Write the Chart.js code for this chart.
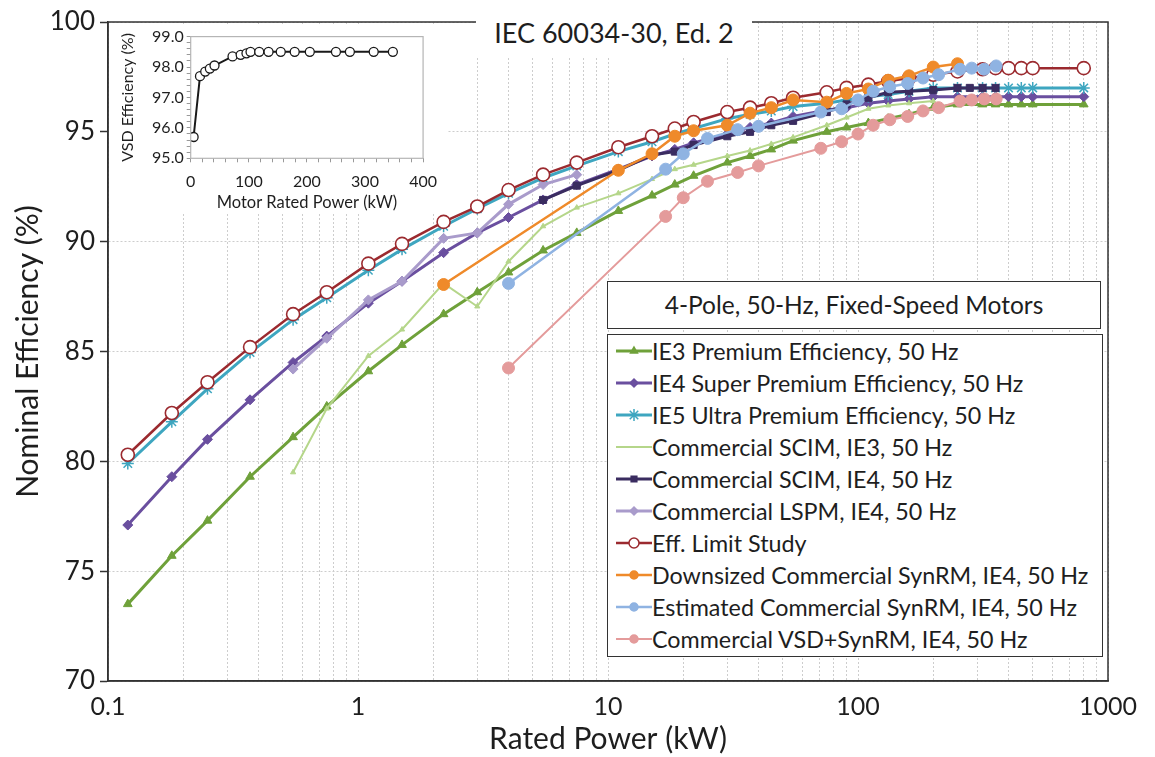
<!DOCTYPE html>
<html>
<head>
<meta charset="utf-8">
<script src="https://cdn.jsdelivr.net/npm/chart.js"></script>
<style>
  html, body { margin: 0; padding: 0; background: #fff; }
  #wrap { position: relative; width: 1155px; height: 757px; font-family: Lato, "Open Sans", sans-serif; color: #1e1e1e; }
  #mainChart { position: absolute; left: 0; top: 0; }
  #insetBox { position: absolute; left: 109px; top: 24px; width: 338px; height: 189px; background: #fff; }
  #titleBox { position: absolute; left: 476px; top: 10px; width: 276px; height: 46px; background: #fff;
              font-size: 27px; text-align: center; line-height: 46px; }
  #legendTitle { position: absolute; left: 607px; top: 281px; width: 492px; height: 46px; background: #fff;
                 border: 1.5px solid #333; font-size: 24.5px; text-align: center; line-height: 46px; }
  #legend { position: absolute; left: 607px; top: 334px; width: 494px; height: 321px; background: #fff;
            border: 1.5px solid #333; }
  .row { position: absolute; left: 0; height: 32px; line-height: 32px; font-size: 23.3px; white-space: nowrap; }
  .row canvas { position: absolute; left: 8px; top: 0; }
  .row span { position: absolute; left: 44px; top: 0; }
</style>
</head>
<body>
<div id="wrap">
  <canvas id="mainChart" width="1155" height="757"></canvas>
  <div id="titleBox">IEC 60034-30, Ed. 2</div>
  <div id="insetBox"><canvas id="insetChart" width="338" height="189"></canvas></div>
  <div id="legendTitle">4-Pole, 50-Hz, Fixed-Speed Motors</div>
  <div id="legend"></div>
</div>
<script>
// rated power (kW) of the standard efficiency classes
const stdPower = [0.12, 0.18, 0.25, 0.37, 0.55, 0.75, 1.1, 1.5, 2.2, 3, 4, 5.5, 7.5, 11, 15, 18.5, 22, 30, 37, 45, 55,
                  75, 90, 110, 132, 160, 200, 250, 315, 355, 400, 450, 500, 800];
const ie3Eff = [73.5, 75.7, 77.3, 79.3, 81.1, 82.5, 84.1, 85.3, 86.7, 87.7, 88.6, 89.6, 90.4, 91.4, 92.1, 92.6, 93.0,
                93.6, 93.9, 94.2, 94.6, 95.0, 95.2, 95.4, 95.6, 95.8, 96.1, 96.25, 96.25, 96.25, 96.25, 96.25, 96.25, 96.25];
const ie4Eff = [77.1, 79.3, 81.0, 82.8, 84.5, 85.7, 87.2, 88.2, 89.5, 90.4, 91.1, 91.9, 92.6, 93.3, 93.9, 94.2, 94.5,
                94.9, 95.2, 95.4, 95.7, 96.0, 96.1, 96.3, 96.4, 96.5, 96.6, 96.6, 96.6, 96.6, 96.6, 96.6, 96.6, 96.6];
const ie5Eff = [79.9, 81.8, 83.3, 84.95, 86.45, 87.45, 88.7, 89.65, 90.7, 91.5, 92.2, 92.9, 93.45, 94.1, 94.55, 94.9,
                95.15, 95.6, 95.8, 95.95, 96.15, 96.3, 96.45, 96.6, 96.7, 96.85, 97.0, 97.0, 97.0, 97.0, 97.0, 97.0, 97.0, 97.0];
const limitEff = [80.3, 82.2, 83.6, 85.2, 86.7, 87.7, 89.0, 89.9, 90.9, 91.6, 92.35, 93.05, 93.6, 94.3, 94.8, 95.15,
                  95.45, 95.9, 96.1, 96.3, 96.55, 96.8, 97.0, 97.15, 97.3, 97.45, 97.6, 97.75, 97.85, 97.9, 97.9, 97.9, 97.9, 97.9];

// commercial motors
const scimIe3Power = [0.55, 0.75, 1.1, 1.5, 2.2, 3, 4, 5.5, 7.5, 11, 15, 18.5, 22, 30, 37, 45, 55, 75, 90, 110, 132, 160, 200];
const scimIe3Eff = [79.5, 82.4, 84.8, 86.0, 88.1, 87.05, 89.1, 90.7, 91.55, 92.2, 92.85, 93.3, 93.5, 93.9, 94.15, 94.45,
                    94.75, 95.3, 95.65, 96.05, 96.2, 96.3, 96.4];
const scimIe4Power = [5.5, 7.5, 11, 15, 18.5, 22, 30, 37, 45, 55, 75, 90, 110, 132, 160, 200, 250, 280, 315, 355];
const scimIe4Eff = [91.9, 92.55, 93.25, 93.95, 94.1, 94.4, 94.8, 95.0, 95.3, 95.5, 95.9, 96.25, 96.55, 96.8, 96.85,
                    96.9, 97.0, 97.0, 97.0, 97.0];
const lspmPower = [0.55, 0.75, 1.1, 1.5, 2.2, 3, 4, 5.5, 7.5];
const lspmEff = [84.2, 85.6, 87.35, 88.2, 90.15, 90.4, 91.7, 92.6, 93.05];
const downsizedPower = [2.2, 11, 15, 18.5, 22, 30, 37, 45, 55, 75, 90, 110, 132, 160, 200, 250];
const downsizedEff = [88.05, 93.25, 94.0, 94.8, 95.05, 95.3, 95.85, 96.1, 96.45, 96.35, 96.75, 96.95, 97.35, 97.55, 97.95, 98.1];
const synrmPower = [4, 17, 20, 25, 33, 40, 71, 86, 100, 115, 134, 158, 182, 210, 256, 285, 320, 357];
const estimatedEff = [88.1, 93.3, 94.0, 94.7, 95.1, 95.25, 95.9, 96.05, 96.45, 96.85, 97.05, 97.2, 97.45, 97.6,
                      97.85, 97.9, 97.85, 98.0];
const vsdSynrmEff = [84.25, 91.15, 92.0, 92.75, 93.15, 93.45, 94.25, 94.55, 94.9, 95.3, 95.55, 95.7, 95.95, 96.1,
                     96.4, 96.45, 96.5, 96.5];

// inset: drive efficiency
const insetPower = [5, 16, 25, 33, 41, 72, 86, 96, 103, 118, 134, 155, 179, 205, 250, 274, 315, 348];
const insetEff = [95.7, 97.7, 97.85, 97.95, 98.05, 98.35, 98.4, 98.45, 98.5, 98.5, 98.5, 98.5, 98.5, 98.5, 98.5, 98.5, 98.5, 98.5];

const yTicks = [70, 75, 80, 85, 90, 95, 100];
const decades = [0.1, 1, 10, 100, 1000];

const series = [
  { label: "IE3 Premium Efficiency, 50 Hz", x: stdPower, y: ie3Eff, color: "#6fa13a", fill: "#6fa13a", style: "triangle", r: 5, w: 3 },
  { label: "IE4 Super Premium Efficiency, 50 Hz", x: stdPower, y: ie4Eff, color: "#6a4f9f", fill: "#6a4f9f", style: "rectRot", r: 5, w: 3 },
  { label: "IE5 Ultra Premium Efficiency, 50 Hz", x: stdPower, y: ie5Eff, color: "#3ea6c0", fill: "#3ea6c0", style: "star", r: 6, w: 3 },
  { label: "Commercial SCIM, IE3, 50 Hz", x: scimIe3Power, y: scimIe3Eff, color: "#b5d68a", fill: "#b5d68a", style: "triangle", r: 3, w: 2 },
  { label: "Commercial SCIM, IE4, 50 Hz", x: scimIe4Power, y: scimIe4Eff, color: "#3a2c60", fill: "#3a2c60", style: "rect", r: 5, w: 3 },
  { label: "Commercial LSPM, IE4, 50 Hz", x: lspmPower, y: lspmEff, color: "#a99bcb", fill: "#a99bcb", style: "rectRot", r: 5, w: 3 },
  { label: "Eff. Limit Study", x: stdPower, y: limitEff, color: "#9b2a2f", fill: "#ffffff", style: "circle", r: 6.5, w: 2.5 },
  { label: "Downsized Commercial SynRM, IE4, 50 Hz", x: downsizedPower, y: downsizedEff, color: "#ef8a2a", fill: "#ef8a2a", style: "circle", r: 6, w: 2.5 },
  { label: "Estimated Commercial SynRM, IE4, 50 Hz", x: synrmPower, y: estimatedEff, color: "#8fb3e2", fill: "#8fb3e2", style: "circle", r: 6, w: 2.5 },
  { label: "Commercial VSD+SynRM, IE4, 50 Hz", x: synrmPower, y: vsdSynrmEff, color: "#e49b9b", fill: "#e49b9b", style: "circle", r: 6, w: 2 }
];

const FONT = "Lato, 'Open Sans', sans-serif";
const TEXT = "#1e1e1e";

const framePlugin = {
  id: "frame",
  afterDatasetsDraw(chart, args, opts) {
    const a = chart.chartArea, ctx = chart.ctx;
    ctx.save();
    ctx.strokeStyle = opts.color || "#333";
    ctx.lineWidth = opts.width || 1.5;
    ctx.strokeRect(a.left, a.top, a.right - a.left, a.bottom - a.top);
    ctx.restore();
  }
};

// minor grid for the log axis: 1..9 of every decade
const xGridValues = [];
for (let d = 0; d < decades.length - 1; d++) {
  for (let m = 1; m < 10; m++) xGridValues.push(+(m * decades[d]).toPrecision(6));
}
xGridValues.push(decades[decades.length - 1]);

const isDecade = v => decades.some(d => Math.abs(d - v) < 1e-9);

new Chart(document.getElementById("mainChart"), {
  type: "line",
  data: {
    datasets: series.map((s, i) => ({
      label: s.label,
      data: s.x.map((p, k) => ({ x: p, y: s.y[k] })),
      borderColor: s.color,
      backgroundColor: s.fill,
      pointBackgroundColor: s.fill,
      pointBorderColor: s.color,
      pointStyle: s.style,
      pointRadius: s.r,
      pointBorderWidth: s.style === "star" ? 1.5 : (s.style === "circle" && s.fill === "#ffffff" ? 1.6 : 1),
      borderWidth: s.w,
      tension: 0,
      fill: false,
      order: 20 - i
    }))
  },
  options: {
    responsive: false,
    animation: false,
    events: [],
    layout: { padding: { left: 0, right: 47, top: 22, bottom: 0 } },
    plugins: {
      legend: { display: false },
      tooltip: { enabled: false },
      frame: { color: "#333", width: 1.5 }
    },
    scales: {
      x: {
        type: "logarithmic",
        min: 0.1,
        max: 1000,
        afterBuildTicks: s => { s.ticks = xGridValues.map(v => ({ value: v, major: isDecade(v) })); },
        afterFit: s => { s.height = 76; },
        ticks: {
          autoSkip: false, maxRotation: 0, padding: 11,
          font: { family: FONT, size: 25 }, color: TEXT,
          callback: v => isDecade(v) ? String(v) : ""
        },
        grid: { color: "#cdcdcd", drawTicks: false },
        border: { display: true, color: "#333", width: 1.5, dash: [2, 2] },
        title: { display: true, text: "Rated Power (kW)", color: TEXT, font: { family: FONT, size: 30 }, padding: { top: 0, bottom: 0 } }
      },
      y: {
        min: 70,
        max: 100,
        afterBuildTicks: s => { s.ticks = yTicks.map(v => ({ value: v })); },
        afterFit: s => { s.width = 108; },
        ticks: { padding: 5, font: { family: FONT, size: 26 }, color: TEXT },
        grid: { color: "#cdcdcd", tickLength: 8, tickColor: "#333", tickWidth: 1.5 },
        border: { display: true, color: "#333", width: 1.5, dash: [2, 2] },
        title: { display: true, text: "Nominal Efficiency (%)", color: TEXT, font: { family: FONT, size: 30 }, padding: { top: 10, bottom: 0 } }
      }
    }
  },
  plugins: [framePlugin]
});

new Chart(document.getElementById("insetChart"), {
  type: "line",
  data: {
    datasets: [{
      label: "VSD Efficiency",
      data: insetPower.map((p, k) => ({ x: p, y: insetEff[k] })),
      borderColor: "#1a1a1a",
      borderWidth: 2,
      pointStyle: "circle",
      pointRadius: 4.5,
      pointBackgroundColor: "#ffffff",
      pointBorderColor: "#1a1a1a",
      pointBorderWidth: 1.3,
      tension: 0
    }]
  },
  options: {
    responsive: false,
    animation: false,
    events: [],
    layout: { padding: { left: 0, right: 14, top: 9, bottom: 0 } },
    plugins: { legend: { display: false }, tooltip: { enabled: false }, frame: { color: "#b5b5b5", width: 1.2 } },
    scales: {
      x: {
        type: "linear", min: 0, max: 400,
        afterFit: s => { s.height = 54.7; },
        ticks: { stepSize: 20, autoSkip: false, maxRotation: 0, padding: 10, font: { family: FONT, size: 16 }, color: TEXT,
                 callback: v => (v % 100 === 0 ? String(v) : "") },
        grid: { drawOnChartArea: false, tickLength: 4, tickColor: "#999" },
        border: { display: false },
        title: { display: true, text: "Motor Rated Power (kW)", color: TEXT, font: { family: FONT, size: 16.5 }, padding: { top: 0, bottom: 0 } }
      },
      y: {
        min: 95, max: 99,
        afterFit: s => { s.width = 81.7; },
        ticks: { stepSize: 0.2, autoSkip: false, padding: 3, font: { family: FONT, size: 16 }, color: TEXT,
                 callback: v => (Math.abs(v - Math.round(v)) < 1e-6 ? v.toFixed(1) : "") },
        grid: { drawOnChartArea: false, tickLength: 4, tickColor: "#999" },
        border: { display: false },
        title: { display: true, text: "VSD Efficiency (%)", color: TEXT, font: { family: FONT, size: 16 }, padding: { top: 9, bottom: 0 } }
      }
    }
  },
  plugins: [framePlugin]
});

// legend
function drawSwatch(cv, s) {
  const ctx = cv.getContext("2d");
  const h = cv.height / 2;
  ctx.strokeStyle = s.color;
  ctx.lineWidth = Math.min(s.w, 3);
  ctx.beginPath();
  ctx.moveTo(0, h);
  ctx.lineTo(cv.width, h);
  ctx.stroke();
  if (s.label.indexOf("SCIM, IE3") >= 0) return;
  ctx.fillStyle = s.fill;
  ctx.lineWidth = 1.5;
  const r = s.style === "circle" && s.fill === "#ffffff" ? 5 : (s.style === "star" ? 6 : 4);
  if (Chart.helpers && Chart.helpers.drawPoint) {
    Chart.helpers.drawPoint(ctx, { pointStyle: s.style, rotation: 0, radius: r, borderWidth: 1.5 }, cv.width / 2, h);
  }
}
const legendEl = document.getElementById("legend");
series.forEach((s, i) => {
  const row = document.createElement("div");
  row.className = "row";
  row.style.top = (32 * i) + "px";
  const cv = document.createElement("canvas");
  cv.width = 36;
  cv.height = 32;
  const span = document.createElement("span");
  span.textContent = s.label;
  row.appendChild(cv);
  row.appendChild(span);
  legendEl.appendChild(row);
  drawSwatch(cv, s);
});
</script>
</body>
</html>
